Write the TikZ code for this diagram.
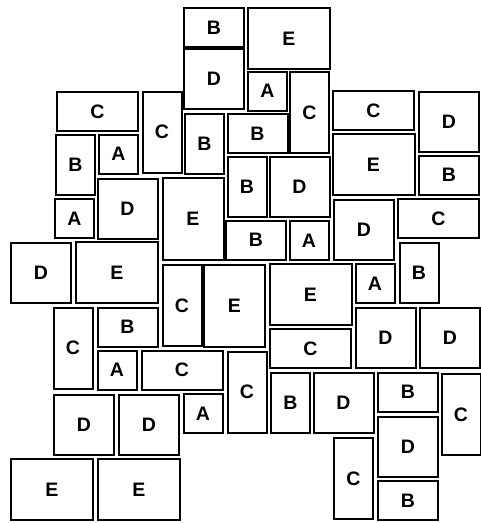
\documentclass[tikz,border=0pt]{standalone}
\usepackage{fontspec}
\setmainfont{Liberation Sans}
\usepackage{tikz}

\begin{document}
\begin{tikzpicture}[
    x=1pt, y=-1pt,
    tile/.style={rectangle, draw=black, line width=2pt, fill=white, inner sep=0pt, text centered, font=\bfseries\fontsize{19.5}{20}\selectfont},
    sqA/.style={tile, minimum width=39pt, minimum height=39pt},
    wideB/.style={tile, minimum width=60pt, minimum height=39pt},
    tallB/.style={tile, minimum width=39pt, minimum height=60pt},
    wideC/.style={tile, minimum width=81pt, minimum height=39pt},
    tallC/.style={tile, minimum width=39pt, minimum height=81pt},
    blockD/.style={tile, minimum width=60pt, minimum height=60pt},
    wideE/.style={tile, minimum width=82pt, minimum height=61pt},
    tallE/.style={tile, minimum width=61pt, minimum height=82pt}
]
    \useasboundingbox (0,0) rectangle (481,523);

    % top block
    \node[wideB] (b1) at (214,27.5) {B};
    \node[wideE] (e1) at (289,38.5) {E};
    \node[blockD] (d1) at (214,79) {D};
    \node[sqA] (a1) at (267.5,91) {A};
    \node[tallC] (c1) at (309.5,112.5) {C};
    \node[wideC] (c2) at (97.5,111.5) {C};
    \node[tallC] (c3) at (162,132) {C};
    \node[tallB] (b2) at (204.5,143.5) {B};
    \node[wideB] (b3) at (257.5,133.5) {B};
    \node[wideC] (c4) at (373.5,110.5) {C};
    \node[blockD] (d2) at (449,121.5) {D};
    \node[wideE] (e2) at (373.5,164.5) {E};
    \node[wideB] (b4) at (449,175) {B};
    \node[tallB] (b5) at (75.5,165) {B};
    \node[sqA] (a2) at (118.5,154) {A};
    \node[blockD] (d3) at (127.5,208.5) {D};
    \node[sqA] (a3) at (74.5,218.5) {A};
    \node[tallE] (e3) at (193,219) {E};
    \node[tallB] (b6) at (247,186.5) {B};
    \node[blockD] (d4) at (299.5,186.5) {D};
    \node[blockD] (d5) at (364,229.5) {D};
    \node[wideC] (c5) at (438.5,218.5) {C};
    \node[wideB] (b7) at (256,240) {B};
    \node[sqA] (a4) at (309,240.5) {A};

    % middle block
    \node[blockD] (d6) at (41,272.5) {D};
    \node[wideE] (e4) at (117,272.5) {E};
    \node[tallC] (c6) at (182,305.5) {C};
    \node[tallE] (e5) at (234.5,305.5) {E};
    \node[wideE] (e6) at (310.5,294.5) {E};
    \node[sqA] (a5) at (375,283.5) {A};
    \node[tallB] (b8) at (419,272.5) {B};
    \node[tallC] (c7) at (73,348) {C};
    \node[wideB] (b9) at (127.5,327) {B};
    \node[wideC] (c8) at (310.5,348.5) {C};
    \node[blockD] (d7) at (385.5,338) {D};
    \node[blockD] (d8) at (450,338) {D};
    \node[sqA] (a6) at (117,370) {A};
    \node[wideC] (c9) at (182,370) {C};
    \node[tallC] (c10) at (247,392) {C};
    \node[tallB] (b10) at (290.5,402.5) {B};
    \node[blockD] (d9) at (343.5,403) {D};
    \node[wideB] (b11) at (408,392) {B};
    \node[tallC] (c11) at (461,414.5) {C};

    % bottom block
    \node[blockD] (d10) at (84,424.5) {D};
    \node[blockD] (d11) at (149,424.5) {D};
    \node[sqA] (a7) at (203,413.5) {A};
    \node[blockD] (d12) at (408,447) {D};
    \node[tallC] (c12) at (353.5,478.5) {C};
    \node[wideB] (b12) at (408,500.5) {B};
    \node[wideE] (e7) at (52,489.5) {E};
    \node[wideE] (e8) at (139,489.5) {E};

\end{tikzpicture}
\end{document}
